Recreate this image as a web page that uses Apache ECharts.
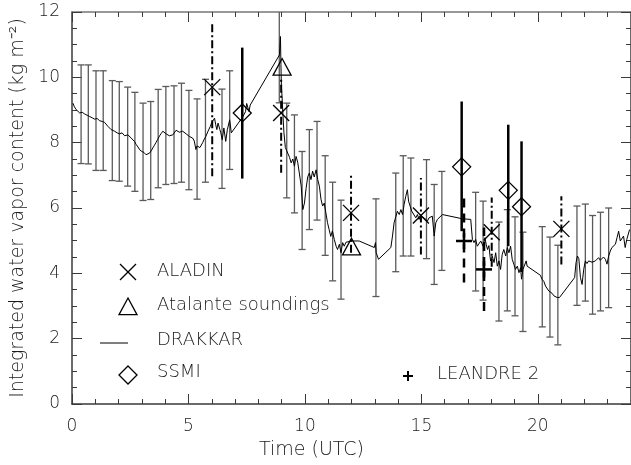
<!DOCTYPE html>
<html>
<head>
<meta charset="utf-8">
<script src="https://cdn.jsdelivr.net/npm/echarts@6/dist/echarts.min.js"></script>
<style>html,body{margin:0;padding:0;background:#fff}#c{width:631px;height:465px}</style>
</head>
<body>
<div id="c"></div>
<script>
// ---- DATA ----
const drakkarTime = [0.04,0.10,0.18,0.26,0.33,0.44,0.54,0.65,0.76,0.87,0.97,1.08,1.19,1.30,1.40,1.47,1.54,1.61,1.68,1.76,1.83,1.94,2.04,2.15,2.26,2.33,2.40,2.47,2.54,2.61,2.68,2.75,2.83,2.91,3.00,3.09,3.18,3.25,3.33,3.40,3.47,3.54,3.61,3.68,3.76,3.83,3.90,3.97,4.04,4.11,4.18,4.25,4.33,4.40,4.47,4.54,4.61,4.68,4.75,4.82,4.90,4.97,5.04,5.11,5.18,5.25,5.32,5.37,5.43,5.49,5.54,5.61,5.68,5.74,5.79,5.84,5.89,5.94,5.99,6.05,6.12,6.17,6.22,6.27,6.31,6.35,6.39,6.45,6.52,6.60,6.67,6.77,6.84,
  7.34,7.45,7.50,7.55,7.60,7.65,8.91,8.95,8.97,8.99,9.02,9.06,9.10,9.16,9.22,9.28,9.34,9.41,9.48,9.55,9.62,9.69,9.76,9.84,9.91,9.98,10.05,10.12,10.19,10.26,10.33,10.40,10.48,10.55,10.62,10.69,10.76,10.83,10.90,10.97,11.04,11.11,11.18,11.26,11.34,11.40,11.48,11.55,11.62,11.69,11.76,11.83,11.98,12.33,12.98,13.03,13.06,13.16,13.69,13.76,13.83,13.91,13.97,14.05,14.12,14.19,14.26,14.33,14.40,14.45,14.52,14.59,14.66,14.76,14.83,14.90,14.98,15.05,15.12,15.19,15.26,15.33,15.40,15.47,15.55,15.62,15.69,15.76,15.90,16.76,16.83,17.12,17.19,17.26,17.33,17.40,17.47,17.55,17.65,17.73,17.78,17.84,17.90,17.97,18.04,18.12,18.19,18.26,18.33,18.40,18.47,18.54,18.62,18.69,18.76,18.83,18.90,18.97,19.04,19.12,19.19,19.26,19.30,19.36,19.44,19.50,19.54,20.11,20.18,20.26,20.33,20.40,20.47,20.54,20.61,20.69,20.76,20.83,20.93,21.58,21.64,21.70,21.76,21.83,21.90,21.97,22.04,22.11,22.18,22.25,22.33,22.40,22.47,22.54,22.61,22.68,22.75,22.82,22.90,22.97,23.04,23.11,23.18,23.25,23.33,23.40,23.47,23.54,23.61,23.68,23.75,23.82,23.94];
const drakkarIwv = [9.21,9.10,9.01,8.96,8.91,8.93,8.88,8.84,8.80,8.76,8.72,8.74,8.67,8.65,8.62,8.66,8.50,8.45,8.40,8.42,8.35,8.30,8.27,8.30,8.21,8.26,8.24,8.18,8.14,8.08,8.04,7.95,7.87,7.78,7.73,7.70,7.63,7.66,7.68,7.75,7.84,7.92,8.01,8.10,8.21,8.28,8.35,8.30,8.27,8.25,8.21,8.26,8.24,8.30,8.38,8.34,8.32,8.37,8.35,8.30,8.27,8.24,8.19,8.17,8.14,8.05,7.79,7.90,7.87,7.85,7.91,8.00,8.11,8.18,8.24,8.35,8.40,8.50,8.60,8.65,8.75,8.55,8.40,8.60,8.55,8.40,8.30,8.09,8.45,8.04,8.40,8.70,8.30,
  8.80,8.95,9.20,9.21,8.95,9.15,10.69,11.25,10.40,9.72,9.40,8.80,8.30,7.85,7.75,7.80,7.55,7.38,7.50,7.28,7.58,7.40,7.07,6.67,5.95,6.15,6.60,6.95,7.07,6.87,7.13,6.95,7.17,6.87,6.67,6.27,6.06,6.15,5.85,5.55,5.34,5.13,5.30,5.04,4.83,4.73,4.89,4.63,4.94,4.83,4.95,4.89,4.99,4.99,4.79,4.94,4.63,4.43,4.79,5.14,5.55,5.75,5.90,5.80,5.95,5.80,6.11,6.36,6.56,6.21,6.05,5.90,5.85,5.70,5.80,5.65,5.75,5.80,5.70,5.75,5.60,5.70,5.65,5.75,5.14,5.55,5.65,5.70,5.80,5.67,5.65,5.65,5.04,4.94,5.04,4.83,4.89,4.99,4.83,5.09,4.89,4.73,4.85,4.38,4.53,4.33,4.63,4.22,4.38,4.12,4.58,4.73,4.53,4.79,4.63,4.83,4.43,4.28,4.12,4.22,4.02,4.17,3.82,4.12,4.17,4.38,4.22,3.94,3.82,3.75,3.61,3.66,3.46,3.50,3.39,3.31,3.36,3.26,3.26,3.87,4.33,4.53,4.45,3.87,3.66,4.12,4.38,4.30,4.38,4.32,4.34,4.30,4.38,4.32,4.48,4.40,4.43,4.50,4.43,4.28,4.53,4.68,4.79,4.84,4.89,5.09,5.29,4.99,4.94,5.14,4.79,5.04,5.34];

const drakkarErrTime = [0.39,0.70,1.03,1.34,1.73,2.03,2.39,2.70,3.05,3.38,3.70,4.03,4.38,4.70,5.02,5.37,5.73,6.44,6.77,8.90,9.22,9.55,9.88,10.19,10.52,10.87,11.19,11.55,13.05,13.90,14.22,14.55,15.22,15.55,15.88,17.33,17.65,18.33,18.69,19.02,19.36,20.19,20.52,20.86,21.68,22.04,22.35,22.69,23.04];
const drakkarErrLow  = [7.36,7.35,7.15,7.15,6.84,6.82,6.67,6.51,6.23,6.26,6.62,6.72,6.75,6.79,6.56,6.27,6.79,6.60,7.18,9.22,6.31,5.85,4.73,5.34,5.63,4.55,3.77,3.21,3.29,4.05,4.53,4.53,4.45,3.66,4.09,3.46,3.18,2.54,2.85,2.70,2.22,2.36,2.05,1.81,3.02,3.15,2.75,2.85,2.95];
const drakkarErrHigh = [10.38,10.38,10.20,10.20,9.90,9.87,9.70,9.54,9.21,9.26,9.63,9.72,9.74,9.82,9.60,9.34,9.94,9.64,10.20,12.30,9.21,8.85,7.73,8.40,8.65,7.60,6.79,6.24,6.28,7.07,7.60,7.53,7.48,6.72,7.12,6.48,6.21,5.57,5.95,5.73,5.26,5.43,5.11,4.86,6.06,6.12,5.77,5.87,6.00];

const aladinTime = [6.02,8.98,11.98,14.98,18.02,21.01];
const aladinIwv  = [9.70,8.91,5.85,5.77,5.26,5.36];
const aladinLow  = [6.97,7.08,4.63,4.58,4.20,4.27];
const aladinHigh = [11.70,10.00,7.07,6.92,6.32,6.36];

const atalanteTime = [9.02,12.00];
const atalanteIwv  = [10.30,4.80];

const ssmiTime = [7.31,16.73,18.73,19.30];
const ssmiIwv  = [8.91,7.26,6.54,6.04];
const ssmiLow  = [6.90,5.29,4.83,4.04];
const ssmiHigh = [10.91,9.26,8.55,8.04];

const leandreTime = [16.83,17.69];
const leandreIwv  = [4.99,4.12];
const leandreLow  = [3.72,2.85];
const leandreHigh = [6.31,5.40];

const xTicks = [0,5,10,15,20];
const yTicks = [0,2,4,6,8,10,12];

// ---- CHART ----
const FONT = 'DejaVu Sans';
const chart = echarts.init(document.getElementById('c'), null, {renderer:'canvas'});

function zip(...arrs){ return arrs[0].map((_,i)=>arrs.map(a=>a[i])); }

function errBar(color, width, dash, cap){
  return function(params, api){
    const x = api.value(0), lo = api.value(1), hi = api.value(2);
    const a = api.coord([x, lo]), b = api.coord([x, hi]);
    const st = {stroke:color, lineWidth:width, lineDash:dash||null, fill:null};
    const ch = [{type:'line', shape:{x1:a[0],y1:a[1],x2:b[0],y2:b[1]}, style:st}];
    if(cap){
      ch.push({type:'line', shape:{x1:a[0]-cap,y1:a[1],x2:a[0]+cap,y2:a[1]}, style:{stroke:color,lineWidth:width}});
      ch.push({type:'line', shape:{x1:b[0]-cap,y1:b[1],x2:b[0]+cap,y2:b[1]}, style:{stroke:color,lineWidth:width}});
    }
    return {type:'group', children:ch};
  };
}
function shapeX(cx,cy,s,w){return [
  {type:'line',shape:{x1:cx-s,y1:cy-s,x2:cx+s,y2:cy+s},style:{stroke:'#000',lineWidth:w}},
  {type:'line',shape:{x1:cx-s,y1:cy+s,x2:cx+s,y2:cy-s},style:{stroke:'#000',lineWidth:w}}];}
function shapeTri(cx,cy,s,w){return [{type:'polygon',shape:{points:[[cx,cy-s],[cx+s,cy+s*0.85],[cx-s,cy+s*0.85]]},style:{stroke:'#000',fill:null,lineWidth:w}}];}
function shapeDia(cx,cy,s,w){return [{type:'polygon',shape:{points:[[cx,cy-s],[cx+s,cy],[cx,cy+s],[cx-s,cy]]},style:{stroke:'#000',fill:null,lineWidth:w}}];}
function shapePlus(cx,cy,s,w){return [
  {type:'line',shape:{x1:cx-s,y1:cy,x2:cx+s,y2:cy},style:{stroke:'#000',lineWidth:w}},
  {type:'line',shape:{x1:cx,y1:cy-s,x2:cx,y2:cy+s},style:{stroke:'#000',lineWidth:w}}];}
function marker(fn,s,w){
  return function(params, api){
    const p = api.coord([api.value(0), api.value(1)]);
    return {type:'group', children: fn(p[0],p[1],s,w)};
  };
}

const axisCol = '#3a3a3a';
const labelStyle = {fontFamily:FONT, fontSize:17, color:'#1a1a1a', fontWeight:300};
const nameStyle = {fontFamily:FONT, fontSize:19, color:'#1a1a1a', fontWeight:300};
const LFONT = '300 18px "DejaVu Sans"';

function ltext(x,y,t){ return {type:'text', x:x, y:y, style:{text:t, font:LFONT, fill:'#1a1a1a', verticalAlign:'middle', align:'left'}}; }

const option = {
  animation:false,
  backgroundColor:'#fff',
  grid:{left:72, right:-2, top:12, bottom:60, containLabel:false},
  xAxis:[
    {type:'value', position:'bottom', min:0, max:24, interval:5,
     axisLine:{show:true, onZero:false, lineStyle:{color:axisCol,width:1.5}},
     axisTick:{show:true, inside:true, length:10, lineStyle:{color:axisCol,width:1}},
     axisLabel:{...labelStyle, margin:14, showMaxLabel:false, formatter:v=>xTicks.includes(v)?String(v):''},
     splitLine:{show:false},
     name:'Time (UTC)', nameLocation:'middle', nameGap:37,
     nameTextStyle:{...nameStyle, padding:[0,80,0,0]}},
    {type:'value', position:'bottom', min:0, max:24, interval:1,
     axisLine:{show:false, onZero:false}, axisTick:{show:true, inside:true, length:5, lineStyle:{color:axisCol,width:1}},
     axisLabel:{show:false}, splitLine:{show:false}},
    {type:'value', position:'top', min:0, max:24, interval:5,
     axisLine:{show:true, onZero:false, lineStyle:{color:'#777',width:1.5}},
     axisTick:{show:true, inside:true, length:10, lineStyle:{color:axisCol,width:1}},
     axisLabel:{show:false}, splitLine:{show:false}},
    {type:'value', position:'top', min:0, max:24, interval:1,
     axisLine:{show:false, onZero:false}, axisTick:{show:true, inside:true, length:5, lineStyle:{color:axisCol,width:1}},
     axisLabel:{show:false}, splitLine:{show:false}}
  ],
  yAxis:[
    {type:'value', position:'left', min:0, max:12, interval:2,
     axisLine:{show:true, onZero:false, lineStyle:{color:axisCol,width:1.5}},
     axisTick:{show:true, inside:true, length:10, lineStyle:{color:axisCol,width:1}},
     minorTick:{show:true, splitNumber:4, length:5, lineStyle:{color:axisCol,width:1}},
     axisLabel:{...labelStyle, margin:12, formatter:v=>yTicks.includes(v)?String(v):''},
     splitLine:{show:false}, minorSplitLine:{show:false},
     name:'Integrated water vapor content (kg m\u207B\u00B2)', nameLocation:'middle', nameGap:44, nameRotate:90,
     nameTextStyle:{...nameStyle}},
    {type:'value', position:'right', min:0, max:12, interval:2,
     axisLine:{show:true, onZero:false, lineStyle:{color:axisCol,width:1.5}},
     axisTick:{show:true, inside:true, length:10, lineStyle:{color:axisCol,width:1}},
     minorTick:{show:true, splitNumber:4, length:5, lineStyle:{color:axisCol,width:1}},
     axisLabel:{show:false}, splitLine:{show:false}, minorSplitLine:{show:false}}
  ],
  series:[
    {name:'DRAKKAR', type:'line', data:zip(drakkarTime, drakkarIwv), showSymbol:false, symbol:'none',
     lineStyle:{color:'#000', width:1}, z:3},
    {name:'DRAKKAR error', type:'custom', renderItem:errBar('#5a5a5a',1.3,null,3.5), clip:true,
     data:zip(drakkarErrTime, drakkarErrLow, drakkarErrHigh), encode:{x:0,y:[1,2]}, z:2},
    {name:'ALADIN error', type:'custom', renderItem:errBar('#000',2,[8,3,2,3],0), clip:true,
     data:zip(aladinTime, aladinLow, aladinHigh), encode:{x:0,y:[1,2]}, z:4},
    {name:'SSMI error', type:'custom', renderItem:errBar('#000',2.5,null,0), clip:true,
     data:zip(ssmiTime, ssmiLow, ssmiHigh), encode:{x:0,y:[1,2]}, z:4},
    {name:'LEANDRE error', type:'custom', renderItem:errBar('#000',2.5,[9,6],0), clip:true,
     data:zip(leandreTime, leandreLow, leandreHigh), encode:{x:0,y:[1,2]}, z:4},
    {name:'ALADIN', type:'custom', renderItem:marker(shapeX,8,1.3), data:zip(aladinTime, aladinIwv), encode:{x:0,y:1}, z:5},
    {name:'Atalante soundings', type:'custom', renderItem:marker(shapeTri,9,1.3), data:zip(atalanteTime, atalanteIwv), encode:{x:0,y:1}, z:5},
    {name:'SSMI', type:'custom', renderItem:marker(shapeDia,9,1.3), data:zip(ssmiTime, ssmiIwv), encode:{x:0,y:1}, z:5},
    {name:'LEANDRE 2', type:'custom', renderItem:marker(shapePlus,8,2.5), data:zip(leandreTime, leandreIwv), encode:{x:0,y:1}, z:5}
  ],
  graphic:[
    ...shapeX(128,272,8,1.3),
    ...shapeTri(128,307,9,1.3),
    {type:'line', shape:{x1:100,y1:343,x2:128,y2:343}, style:{stroke:'#000',lineWidth:1}},
    ...shapeDia(128,375,9,1.3),
    ...shapePlus(408,376,5,2),
    ltext(157,271,'ALADIN'),
    ltext(157,305,'Atalante soundings'),
    ltext(157,340,'DRAKKAR'),
    ltext(157,372,'SSMI'),
    ltext(437,374,'LEANDRE 2')
  ].map(g => Object.assign({silent:true}, g))
};
chart.setOption(option);
</script>
</body>
</html>
